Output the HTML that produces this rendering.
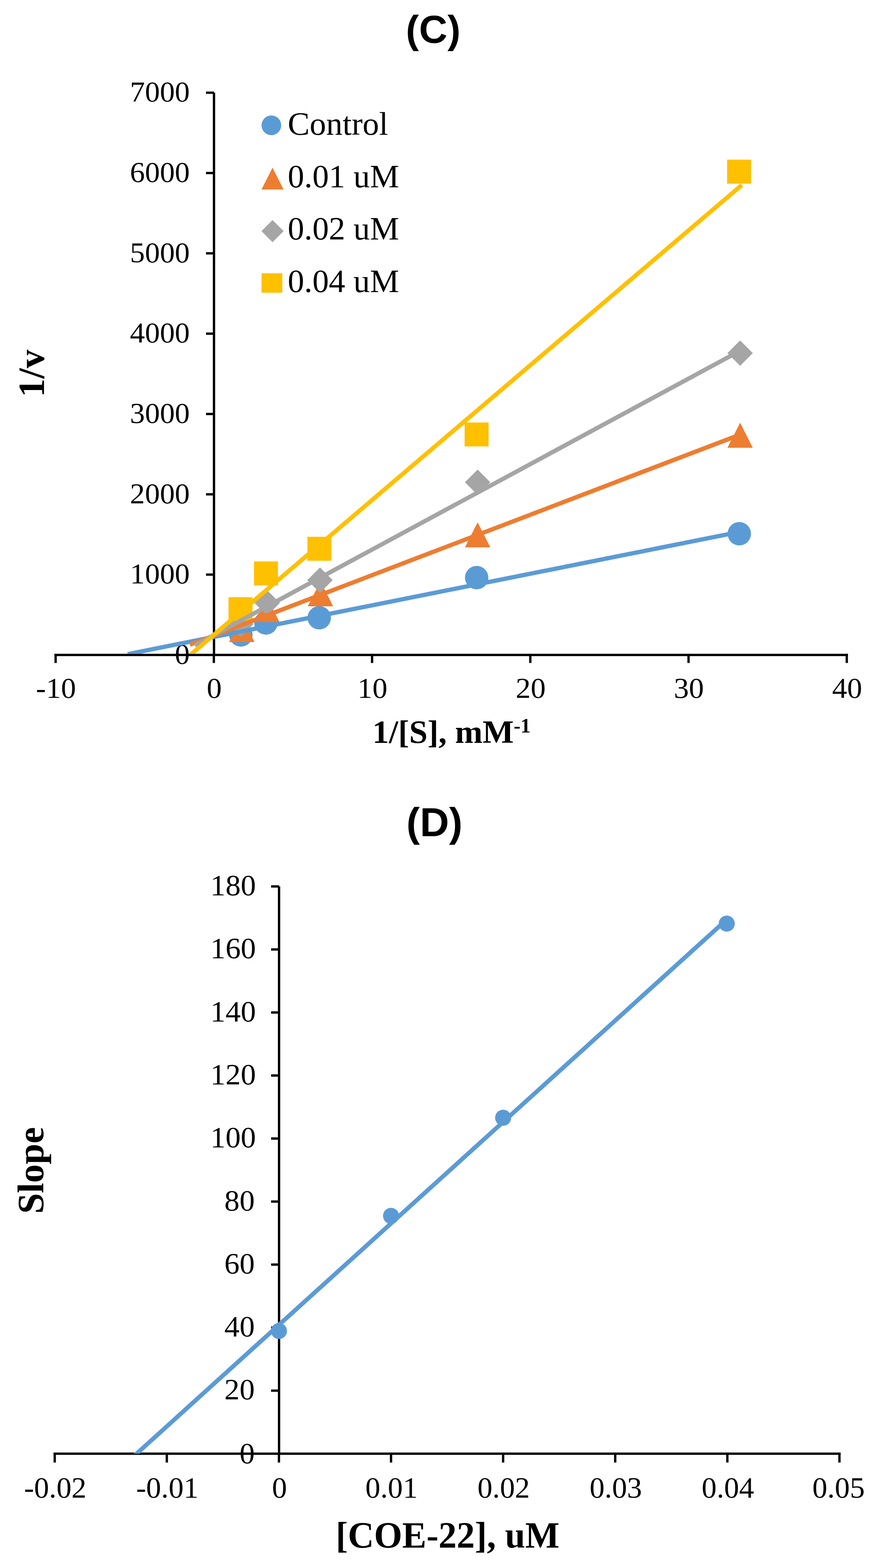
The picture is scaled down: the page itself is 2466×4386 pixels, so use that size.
<!DOCTYPE html>
<html><head><meta charset="utf-8"><title>Lineweaver-Burk plot (C) and secondary plot (D)</title>
<style>html,body{margin:0;padding:0;background:#fff;}svg{display:block;}</style></head>
<body>
<svg width="2466" height="4386" viewBox="0 0 2466 4386">
<rect width="2466" height="4386" fill="#fff"/>
<text transform="translate(1211.20,120.00) scale(1.0,1)" font-family="'Liberation Sans',Arial,sans-serif" font-weight="bold" font-size="110" text-anchor="middle">(C)</text>
<text transform="translate(530.50,284.40) scale(1.045,1)" font-family="'Liberation Serif','Times New Roman',serif" font-size="80" text-anchor="end">7000</text>
<text transform="translate(530.50,509.07) scale(1.045,1)" font-family="'Liberation Serif','Times New Roman',serif" font-size="80" text-anchor="end">6000</text>
<text transform="translate(530.50,733.74) scale(1.045,1)" font-family="'Liberation Serif','Times New Roman',serif" font-size="80" text-anchor="end">5000</text>
<text transform="translate(530.50,958.41) scale(1.045,1)" font-family="'Liberation Serif','Times New Roman',serif" font-size="80" text-anchor="end">4000</text>
<text transform="translate(530.50,1183.09) scale(1.045,1)" font-family="'Liberation Serif','Times New Roman',serif" font-size="80" text-anchor="end">3000</text>
<text transform="translate(530.50,1407.76) scale(1.045,1)" font-family="'Liberation Serif','Times New Roman',serif" font-size="80" text-anchor="end">2000</text>
<text transform="translate(530.50,1632.43) scale(1.045,1)" font-family="'Liberation Serif','Times New Roman',serif" font-size="80" text-anchor="end">1000</text>
<text transform="translate(530.50,1857.10) scale(1.045,1)" font-family="'Liberation Serif','Times New Roman',serif" font-size="80" text-anchor="end">0</text>
<text transform="translate(156.50,1951.80) scale(1.05,1)" font-family="'Liberation Serif','Times New Roman',serif" font-size="80" text-anchor="middle">-10</text>
<text transform="translate(598.90,1951.80) scale(1.05,1)" font-family="'Liberation Serif','Times New Roman',serif" font-size="80" text-anchor="middle">0</text>
<text transform="translate(1041.30,1951.80) scale(1.05,1)" font-family="'Liberation Serif','Times New Roman',serif" font-size="80" text-anchor="middle">10</text>
<text transform="translate(1483.70,1951.80) scale(1.05,1)" font-family="'Liberation Serif','Times New Roman',serif" font-size="80" text-anchor="middle">20</text>
<text transform="translate(1926.10,1951.80) scale(1.05,1)" font-family="'Liberation Serif','Times New Roman',serif" font-size="80" text-anchor="middle">30</text>
<text transform="translate(2368.50,1951.80) scale(1.05,1)" font-family="'Liberation Serif','Times New Roman',serif" font-size="80" text-anchor="middle">40</text>
<text transform="translate(123.00,1044.50) rotate(-90) scale(1.0,1)" font-family="'Liberation Serif','Times New Roman',serif" font-weight="bold" font-size="104" text-anchor="middle">1/v</text>
<!-- x axis title C -->
<text transform="translate(1262.50,2078.00) scale(1.015,1)" font-family="'Liberation Serif','Times New Roman',serif" font-weight="bold" font-size="91" text-anchor="middle">1/[S], mM<tspan font-size="56" dy="-28.6">-1</tspan></text>
<g stroke="#000" stroke-width="6.5" fill="none">
<line x1="598.3" y1="259.3" x2="598.3" y2="1832.0"/>
<line x1="576" y1="259.3" x2="598.3" y2="259.3"/>
<line x1="576" y1="484.0" x2="598.3" y2="484.0"/>
<line x1="576" y1="708.6" x2="598.3" y2="708.6"/>
<line x1="576" y1="933.3" x2="598.3" y2="933.3"/>
<line x1="576" y1="1158.0" x2="598.3" y2="1158.0"/>
<line x1="576" y1="1382.7" x2="598.3" y2="1382.7"/>
<line x1="576" y1="1607.3" x2="598.3" y2="1607.3"/>
<line x1="152.25" y1="1832.0" x2="2370.75" y2="1832.0"/>
<line x1="155.5" y1="1828.75" x2="155.5" y2="1854.5"/>
<line x1="597.9" y1="1828.75" x2="597.9" y2="1854.5"/>
<line x1="1040.3" y1="1828.75" x2="1040.3" y2="1854.5"/>
<line x1="1482.7" y1="1828.75" x2="1482.7" y2="1854.5"/>
<line x1="1925.1" y1="1828.75" x2="1925.1" y2="1854.5"/>
<line x1="2367.5" y1="1828.75" x2="2367.5" y2="1854.5"/>
</g>
<circle cx="673.5" cy="1776" r="32.75" fill="#5B9BD5"/>
<circle cx="743.5" cy="1742.5" r="32.75" fill="#5B9BD5"/>
<circle cx="892.6" cy="1728" r="32.75" fill="#5B9BD5"/>
<circle cx="1332.7" cy="1615.8" r="32.75" fill="#5B9BD5"/>
<circle cx="2067" cy="1493" r="32.75" fill="#5B9BD5"/>
<polygon points="676.0,1726.0 711.5,1796.0 640.5,1796.0" fill="#ED7D31"/>
<polygon points="746.0,1670.0 781.5,1740.0 710.5,1740.0" fill="#ED7D31"/>
<polygon points="896.0,1626.0 931.5,1696.0 860.5,1696.0" fill="#ED7D31"/>
<polygon points="1335.4,1461.0 1370.9,1531.0 1299.9,1531.0" fill="#ED7D31"/>
<polygon points="2069.3,1182.5 2104.8,1252.5 2033.8,1252.5" fill="#ED7D31"/>
<polygon points="673.0,1710.5 708.5,1746.0 673.0,1781.5 637.5,1746.0" fill="#A5A5A5"/>
<polygon points="747.0,1651.1 782.5,1686.6 747.0,1722.1 711.5,1686.6" fill="#A5A5A5"/>
<polygon points="894.7,1587.2 930.2,1622.7 894.7,1658.2 859.2,1622.7" fill="#A5A5A5"/>
<polygon points="1335.4,1313.5 1370.9,1349.0 1335.4,1384.5 1299.9,1349.0" fill="#A5A5A5"/>
<polygon points="2069.3,952.2 2104.8,987.7 2069.3,1023.2 2033.8,987.7" fill="#A5A5A5"/>
<rect x="639.0" y="1670.5" width="67" height="67" fill="#FFC000"/>
<rect x="710.2" y="1570.5" width="67" height="67" fill="#FFC000"/>
<rect x="859.5" y="1501.5" width="67" height="67" fill="#FFC000"/>
<rect x="1299.0" y="1181.8" width="67" height="67" fill="#FFC000"/>
<rect x="2032.9" y="446.6" width="67" height="67" fill="#FFC000"/>
<defs><clipPath id="pc"><rect x="150" y="200" width="2300" height="1629"/></clipPath></defs>
<g clip-path="url(#pc)">
<line x1="357" y1="1829.8" x2="2073" y2="1486.8" stroke="#5B9BD5" stroke-width="12.0"/>
<line x1="531" y1="1803.5" x2="2073" y2="1214.3" stroke="#ED7D31" stroke-width="12.0"/>
<line x1="545" y1="1805.1" x2="2073" y2="979.2" stroke="#A5A5A5" stroke-width="12.0"/>
<line x1="525" y1="1837.9" x2="2074" y2="517.6" stroke="#FFC000" stroke-width="12.0"/>
</g>
<circle cx="758.75" cy="350.5" r="27.5" fill="#5B9BD5"/>
<polygon points="762.0,468.9 792.9,530.1 731.1,530.1" fill="#ED7D31"/>
<polygon points="762.0,615.6 793.0,646.6 762.0,677.6 731.0,646.6" fill="#A5A5A5"/>
<rect x="731.2" y="764.3" width="58" height="54.5" fill="#FFC000"/>
<text transform="translate(804.50,377.00) scale(1.01,1)" font-family="'Liberation Serif','Times New Roman',serif" font-size="91" text-anchor="start">Control</text>
<text transform="translate(804.50,523.60) scale(1.01,1)" font-family="'Liberation Serif','Times New Roman',serif" font-size="91" text-anchor="start">0.01 uM</text>
<text transform="translate(804.50,670.00) scale(1.01,1)" font-family="'Liberation Serif','Times New Roman',serif" font-size="91" text-anchor="start">0.02 uM</text>
<text transform="translate(804.50,816.50) scale(1.01,1)" font-family="'Liberation Serif','Times New Roman',serif" font-size="91" text-anchor="start">0.04 uM</text>
<text transform="translate(1214.70,2339.40) scale(1.0,1)" font-family="'Liberation Sans',Arial,sans-serif" font-weight="bold" font-size="113" text-anchor="middle">(D)</text>
<text transform="translate(715.50,2504.00) scale(1.03,1)" font-family="'Liberation Serif','Times New Roman',serif" font-size="82.5" text-anchor="end">180</text>
<text transform="translate(715.50,2680.30) scale(1.03,1)" font-family="'Liberation Serif','Times New Roman',serif" font-size="82.5" text-anchor="end">160</text>
<text transform="translate(715.50,2856.60) scale(1.03,1)" font-family="'Liberation Serif','Times New Roman',serif" font-size="82.5" text-anchor="end">140</text>
<text transform="translate(715.50,3032.90) scale(1.03,1)" font-family="'Liberation Serif','Times New Roman',serif" font-size="82.5" text-anchor="end">120</text>
<text transform="translate(715.50,3209.20) scale(1.03,1)" font-family="'Liberation Serif','Times New Roman',serif" font-size="82.5" text-anchor="end">100</text>
<text transform="translate(712.30,3385.50) scale(1.03,1)" font-family="'Liberation Serif','Times New Roman',serif" font-size="82.5" text-anchor="end">80</text>
<text transform="translate(712.30,3561.80) scale(1.03,1)" font-family="'Liberation Serif','Times New Roman',serif" font-size="82.5" text-anchor="end">60</text>
<text transform="translate(712.30,3738.10) scale(1.03,1)" font-family="'Liberation Serif','Times New Roman',serif" font-size="82.5" text-anchor="end">40</text>
<text transform="translate(712.30,3914.40) scale(1.03,1)" font-family="'Liberation Serif','Times New Roman',serif" font-size="82.5" text-anchor="end">20</text>
<text transform="translate(712.30,4093.20) scale(1.03,1)" font-family="'Liberation Serif','Times New Roman',serif" font-size="82.5" text-anchor="end">0</text>
<text transform="translate(154.50,4189.40) scale(1.015,1)" font-family="'Liberation Serif','Times New Roman',serif" font-size="82.5" text-anchor="middle">-0.02</text>
<text transform="translate(467.93,4189.40) scale(1.015,1)" font-family="'Liberation Serif','Times New Roman',serif" font-size="82.5" text-anchor="middle">-0.01</text>
<text transform="translate(781.36,4189.40) scale(1.015,1)" font-family="'Liberation Serif','Times New Roman',serif" font-size="82.5" text-anchor="middle">0</text>
<text transform="translate(1094.79,4189.40) scale(1.015,1)" font-family="'Liberation Serif','Times New Roman',serif" font-size="82.5" text-anchor="middle">0.01</text>
<text transform="translate(1408.21,4189.40) scale(1.015,1)" font-family="'Liberation Serif','Times New Roman',serif" font-size="82.5" text-anchor="middle">0.02</text>
<text transform="translate(1721.64,4189.40) scale(1.015,1)" font-family="'Liberation Serif','Times New Roman',serif" font-size="82.5" text-anchor="middle">0.03</text>
<text transform="translate(2035.07,4189.40) scale(1.015,1)" font-family="'Liberation Serif','Times New Roman',serif" font-size="82.5" text-anchor="middle">0.04</text>
<text transform="translate(2344.50,4189.40) scale(1.015,1)" font-family="'Liberation Serif','Times New Roman',serif" font-size="82.5" text-anchor="middle">0.05</text>
<text transform="translate(120.80,3274.00) rotate(-90) scale(1.0,1)" font-family="'Liberation Serif','Times New Roman',serif" font-weight="bold" font-size="104" text-anchor="middle">Slope</text>
<text transform="translate(1251.40,4329.40) scale(0.98,1)" font-family="'Liberation Serif','Times New Roman',serif" font-weight="bold" font-size="103.5" text-anchor="middle">[COE-22], uM</text>
<g stroke="#000" stroke-width="6.5" fill="none">
<line x1="780.2" y1="2479.5" x2="780.2" y2="4066.2"/>
<line x1="758" y1="2479.5" x2="780.2" y2="2479.5"/>
<line x1="758" y1="2655.8" x2="780.2" y2="2655.8"/>
<line x1="758" y1="2832.1" x2="780.2" y2="2832.1"/>
<line x1="758" y1="3008.4" x2="780.2" y2="3008.4"/>
<line x1="758" y1="3184.7" x2="780.2" y2="3184.7"/>
<line x1="758" y1="3361.0" x2="780.2" y2="3361.0"/>
<line x1="758" y1="3537.3" x2="780.2" y2="3537.3"/>
<line x1="758" y1="3713.6" x2="780.2" y2="3713.6"/>
<line x1="758" y1="3889.9" x2="780.2" y2="3889.9"/>
<line x1="149.75" y1="4066.2" x2="2350.25" y2="4066.2"/>
<line x1="153.0" y1="4062.95" x2="153.0" y2="4091"/>
<line x1="466.4" y1="4062.95" x2="466.4" y2="4091"/>
<line x1="779.9" y1="4062.95" x2="779.9" y2="4091"/>
<line x1="1093.3" y1="4062.95" x2="1093.3" y2="4091"/>
<line x1="1406.7" y1="4062.95" x2="1406.7" y2="4091"/>
<line x1="1720.1" y1="4062.95" x2="1720.1" y2="4091"/>
<line x1="2033.6" y1="4062.95" x2="2033.6" y2="4091"/>
<line x1="2347.0" y1="4062.95" x2="2347.0" y2="4091"/>
</g>
<circle cx="779.9" cy="3723" r="22.5" fill="#5B9BD5"/>
<circle cx="1093.3" cy="3401" r="22.5" fill="#5B9BD5"/>
<circle cx="1406.7" cy="3126.5" r="22.5" fill="#5B9BD5"/>
<circle cx="2031.9" cy="2583.5" r="22.5" fill="#5B9BD5"/>
<defs><clipPath id="pd"><rect x="150" y="2400" width="2300" height="1666.2"/></clipPath></defs>
<g clip-path="url(#pd)"><line x1="370" y1="4077.1" x2="2033" y2="2571.3" stroke="#5B9BD5" stroke-width="12.0"/></g>
</svg>
</body></html>
